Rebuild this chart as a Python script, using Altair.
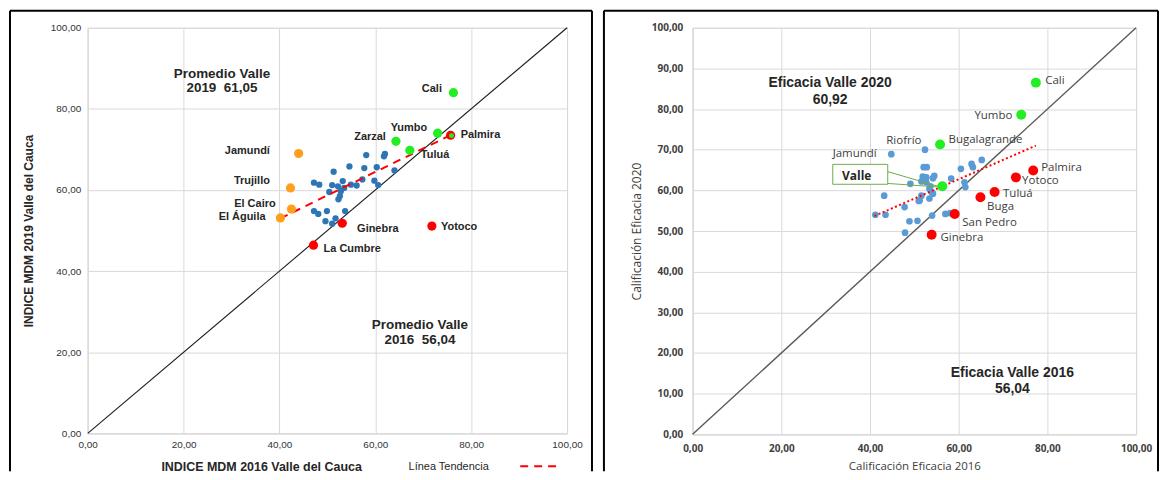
import altair as alt
import pandas as pd

# ---------------- LEFT PANEL: INDICE MDM 2016 vs 2019 ----------------
L_blue_x = [58.1, 62.0, 61.8, 54.6, 57.7, 60.3, 51.3, 64.0, 47.2, 48.3, 51.0, 53.2, 52.2, 54.9, 56.1,
            57.3, 59.8, 60.6, 50.4, 52.8, 53.5, 52.6, 52.3, 47.2, 48.1, 49.9, 53.7, 49.6, 51.0, 51.7]
L_blue_y = [68.6, 68.9, 68.3, 65.8, 65.4, 65.6, 64.5, 64.8, 61.8, 61.3, 61.2, 62.2, 60.9, 61.3, 61.1,
            62.6, 62.3, 61.2, 59.5, 59.7, 60.5, 58.5, 57.7, 54.8, 54.1, 54.8, 54.8, 52.3, 51.7, 53.0]

L_names = ["Cali", "Yumbo", "Zarzal", "Tuluá", "Palmira", "Jamundí", "Trujillo", "El Cairo",
           "El Águila", "Ginebra", "La Cumbre", "Yotoco"]
L_x = [76.3, 73.0, 64.3, 67.2, 75.7, 44.0, 42.3, 42.5, 40.2, 53.1, 47.1, 71.8]
L_y = [84.0, 74.0, 72.0, 69.8, 73.5, 69.0, 60.5, 55.3, 53.1, 51.8, 46.4, 51.1]
L_group = ["verde", "verde", "verde", "verde", "rojo", "naranja", "naranja", "naranja",
           "naranja", "rojo", "rojo", "rojo"]
L_lab_x = [73.9, 67.0, 58.9, 69.5, 77.8, 38.0, 38.0, 39.2, 37.1, 56.2, 49.2, 73.7]
L_lab_y = [85.0, 75.4, 73.0, 68.6, 73.5, 69.5, 62.2, 56.5, 53.3, 50.4, 45.5, 50.9]
L_lab_align = ["right", "center", "center", "left", "left", "right", "right", "right",
               "right", "left", "left", "left"]
L_overlap_x = [75.9]   # green marker seen on top of Palmira
L_overlap_y = [73.4]

L_trend_x = [40.2, 76.0]
L_trend_y = [53.0, 73.7]

L_note_text = ["Promedio Valle\n2019\u00a0\u00a061,05", "Promedio Valle\n2016\u00a0\u00a056,04"]
L_note_x = [28.0, 69.3]
L_note_y = [88.7, 26.6]

# ---------------- RIGHT PANEL: Eficacia 2016 vs 2020 ----------------
R_blue_x = [44.8, 52.4, 52.1, 52.8, 54.5, 54.2, 60.5, 62.9, 63.2, 65.2, 51.9, 52.7, 51.6, 52.7, 58.3,
            49.1, 61.3, 61.5, 43.2, 51.6, 51.2, 54.2, 53.4, 47.8, 41.2, 43.5, 48.9, 50.7, 54.0, 57.0,
            58.1, 47.9, 53.6, 53.9, 53.4, 51.0]
R_blue_y = [68.9, 70.0, 65.7, 65.7, 63.6, 63.0, 65.3, 66.5, 65.7, 67.5, 63.4, 63.2, 62.2, 62.0, 62.9,
            61.6, 62.0, 60.8, 58.7, 58.7, 57.5, 59.2, 60.4, 55.9, 54.0, 54.0, 52.4, 52.5, 53.8, 54.2,
            54.4, 49.6, 61.0, 59.6, 58.0, 57.4]

R_names = ["Cali", "Yumbo", "Bugalagrande", "Valle", "Palmira", "Yotoco", "Tuluá", "Buga",
           "San Pedro", "Ginebra"]
R_x = [77.4, 74.1, 55.8, 56.3, 76.8, 72.9, 68.1, 64.9, 59.1, 53.9]
R_y = [86.5, 78.6, 71.3, 61.0, 64.9, 63.2, 59.6, 58.3, 54.2, 49.1]
R_group = ["verde", "verde", "verde", "verde", "rojo", "rojo", "rojo", "rojo", "rojo", "rojo"]

R_lab_text = ["Cali", "Yumbo", "Bugalagrande", "Riofrío", "Jamundí", "Palmira", "Yotoco", "Tuluá",
              "Buga", "San Pedro", "Ginebra"]
R_lab_x = [79.5, 72.1, 57.7, 51.6, 41.5, 78.6, 74.3, 70.0, 66.4, 60.8, 55.9]
R_lab_y = [86.8, 78.4, 72.3, 72.1, 68.9, 65.5, 62.2, 59.0, 55.8, 52.0, 48.4]
R_lab_align = ["left", "right", "left", "right", "right", "left", "left", "left", "left", "left", "left"]

R_trend_x = [41.0, 77.4]
R_trend_y = [53.7, 71.0]

R_note_text = ["Eficacia Valle 2020\n60,92", "Eficacia Valle 2016\n56,04"]
R_note_x = [31.0, 72.1]
R_note_y = [86.5, 15.2]

R_callout_x = [31.6]
R_callout_x2 = [44.0]
R_callout_y = [61.5]
R_callout_y2 = [66.4]
R_callout_text_x = [33.7]
R_callout_text_y = [63.5]
R_conn_x = [44.0, 44.0]
R_conn_y = [64.6, 61.7]
R_conn_x2 = [56.0, 56.0]
R_conn_y2 = [60.8, 60.8]

DIAG_X = [0, 100]
DIAG_Y = [0, 100]

# ---------------- styling ----------------
GROUP_DOMAIN = ["verde", "rojo", "naranja"]
GROUP_RANGE = ["#22ee22", "#ff0000", "#ff9f1c"]
lab_expr = "replace(format(datum.value, '.2f'), '.', ',')"
AXC = dict(ticks=False, domainColor="#d9d9d9", gridColor="#d9d9d9", labelFlush=False,
           labelOverlap=False)

W1, H1 = 481, 407
W2, H2 = 445, 408

xs1 = alt.Scale(domain=[0, 100], nice=False, zero=False)
ys1 = alt.Scale(domain=[0, 100], nice=False, zero=False)
ax_x1 = alt.Axis(values=[0, 20, 40, 60, 80, 100], labelExpr=lab_expr, labelFont="Liberation Sans",
                 labelFontSize=10, labelColor="#333333", labelPadding=6,
                 title="INDICE MDM 2016 Valle del Cauca", titleFont="Liberation Sans",
                 titleFontSize=12.5, titleFontWeight="bold", titleColor="#262626",
                 titleX=174, titleY=33, titleBaseline="middle", titleAlign="center", **AXC)
ax_y1 = alt.Axis(values=[0, 20, 40, 60, 80, 100], labelExpr=lab_expr, labelFont="Liberation Sans",
                 labelFontSize=10, labelColor="#333333", labelPadding=7,
                 title="INDICE MDM 2019 Valle del Cauca", titleFont="Liberation Sans",
                 titleFontSize=12, titleFontWeight="bold", titleColor="#262626",
                 titleX=-59, titleY=H1 / 2, titleBaseline="middle", titleAlign="center",
                 titleAngle=270, **AXC)

xs2 = alt.Scale(domain=[0, 100], nice=False, zero=False)
ys2 = alt.Scale(domain=[0, 100], nice=False, zero=False)
ax_x2 = alt.Axis(values=[0, 20, 40, 60, 80, 100], labelExpr=lab_expr, labelFont="Open Sans",
                 labelFontSize=10, labelFontWeight="bold", labelColor="#404040", labelPadding=9,
                 title="Calificación Eficacia 2016", titleFont="Open Sans", titleFontSize=11.5,
                 titleFontWeight="normal", titleColor="#404040",
                 titleX=W2 / 2, titleY=32, titleBaseline="middle", titleAlign="center", **AXC)
ax_y2 = alt.Axis(values=list(range(0, 101, 10)), labelExpr=lab_expr, labelFont="Open Sans",
                 labelFontSize=10, labelFontWeight="bold", labelColor="#404040", labelPadding=10,
                 title="Calificación Eficacia 2020", titleFont="Open Sans", titleFontSize=12,
                 titleFontWeight="normal", titleColor="#404040",
                 titleX=-56, titleY=H2 / 2, titleBaseline="middle", titleAlign="center",
                 titleAngle=270, **AXC)


def X1(f):
    return alt.X(f, type="quantitative", scale=xs1, axis=ax_x1)


def Y1(f):
    return alt.Y(f, type="quantitative", scale=ys1, axis=ax_y1)


def X2(f):
    return alt.X(f, type="quantitative", scale=xs2, axis=ax_x2)


def Y2(f):
    return alt.Y(f, type="quantitative", scale=ys2, axis=ax_y2)


one = pd.DataFrame({"k": [0]})
color_enc = alt.Color("g:N", scale=alt.Scale(domain=GROUP_DOMAIN, range=GROUP_RANGE), legend=None)


def frame(x0, x1, y0, y1):
    """Panel border (open at the bottom, where the page cuts it)."""
    st = dict(color="black", strokeWidth=2)
    return [
        alt.Chart(one).mark_rule(**st).encode(x=alt.value(x0), x2=alt.value(x1), y=alt.value(y0)),
        alt.Chart(one).mark_rule(**st).encode(x=alt.value(x0), y=alt.value(y0), y2=alt.value(y1)),
        alt.Chart(one).mark_rule(**st).encode(x=alt.value(x1), y=alt.value(y0), y2=alt.value(y1)),
    ]


# ---------- left layers ----------
diag = pd.DataFrame({"x": DIAG_X, "y": DIAG_Y})
l_frame = frame(-78, 506, -17, 445)
l_diag = alt.Chart(diag).mark_line(color="#1a1a1a", strokeWidth=1.1).encode(x=X1("x"), y=Y1("y"))
l_blue = alt.Chart(pd.DataFrame({"x": L_blue_x, "y": L_blue_y})).mark_circle(
    size=40, opacity=1, color="#2e75b6").encode(x=X1("x"), y=Y1("y"))
l_trend = alt.Chart(pd.DataFrame({"x": L_trend_x, "y": L_trend_y})).mark_line(
    color="#ff0000", strokeWidth=2, strokeDash=[8, 6]).encode(x=X1("x"), y=Y1("y"))
l_named = alt.Chart(pd.DataFrame({"x": L_x, "y": L_y, "g": L_group, "n": L_names})).mark_circle(
    size=85, opacity=1).encode(x=X1("x"), y=Y1("y"), color=color_enc)
l_over = alt.Chart(pd.DataFrame({"x": L_overlap_x, "y": L_overlap_y})).mark_circle(
    size=25, opacity=1, color="#22ee22").encode(x=X1("x"), y=Y1("y"))
l_lab_df = pd.DataFrame({"x": L_lab_x, "y": L_lab_y, "t": L_names, "a": L_lab_align})
l_labs = [
    alt.Chart(l_lab_df).transform_filter(alt.datum.a == a).mark_text(
        align=a, baseline="middle", font="Liberation Sans", fontSize=11, fontWeight="bold",
        color="#262626").encode(x=X1("x"), y=Y1("y"), text="t:N")
    for a in ["left", "right", "center"]
]
l_notes = alt.Chart(pd.DataFrame({"x": L_note_x, "y": L_note_y, "t": L_note_text})).mark_text(
    align="center", baseline="middle", font="Liberation Sans", fontSize=13.5, fontWeight="bold",
    color="#262626", lineBreak="\n", lineHeight=15).encode(x=X1("x"), y=Y1("y"), text="t:N")
l_leg_text = alt.Chart(one).mark_text(
    align="left", baseline="middle", font="Liberation Sans", fontSize=11, color="#262626",
    text="Línea Tendencia").encode(x=alt.value(322), y=alt.value(441))
l_leg_line = alt.Chart(one).mark_rule(color="#ff0000", strokeWidth=2, strokeDash=[8, 6]).encode(
    x=alt.value(434), x2=alt.value(473), y=alt.value(440))

left = alt.layer(*l_frame, l_diag, l_blue, l_trend, l_named, l_over, *l_labs, l_notes,
                 l_leg_text, l_leg_line).properties(width=W1, height=H1)

# ---------- right layers ----------
r_frame = frame(-89, 467, -17, 445)
r_diag = alt.Chart(diag).mark_line(color="#595959", strokeWidth=1.4).encode(x=X2("x"), y=Y2("y"))
r_blue = alt.Chart(pd.DataFrame({"x": R_blue_x, "y": R_blue_y})).mark_circle(
    size=45, opacity=1, color="#5b9bd5").encode(x=X2("x"), y=Y2("y"))
r_trend = alt.Chart(pd.DataFrame({"x": R_trend_x, "y": R_trend_y})).mark_line(
    color="#ff0000", strokeWidth=2, strokeDash=[2, 2.5]).encode(x=X2("x"), y=Y2("y"))
r_named = alt.Chart(pd.DataFrame({"x": R_x, "y": R_y, "g": R_group, "n": R_names})).mark_circle(
    size=100, opacity=1).encode(x=X2("x"), y=Y2("y"), color=color_enc)
r_lab_df = pd.DataFrame({"x": R_lab_x, "y": R_lab_y, "t": R_lab_text, "a": R_lab_align})
r_labs = [
    alt.Chart(r_lab_df).transform_filter(alt.datum.a == a).mark_text(
        align=a, baseline="middle", font="Open Sans", fontSize=11.5, color="#404040").encode(
        x=X2("x"), y=Y2("y"), text="t:N")
    for a in ["left", "right"]
]
r_notes = alt.Chart(pd.DataFrame({"x": R_note_x, "y": R_note_y, "t": R_note_text})).mark_text(
    align="center", baseline="middle", font="Liberation Sans", fontSize=14, fontWeight="bold",
    color="#262626", lineBreak="\n", lineHeight=17).encode(x=X2("x"), y=Y2("y"), text="t:N")
r_conn = alt.Chart(pd.DataFrame({"x": R_conn_x, "y": R_conn_y, "x2": R_conn_x2, "y2": R_conn_y2})
                   ).mark_rule(color="#70ad47", strokeWidth=1).encode(
    x=X2("x"), y=Y2("y"), x2="x2:Q", y2="y2:Q")
r_box = alt.Chart(pd.DataFrame({"x": R_callout_x, "x2": R_callout_x2, "y": R_callout_y,
                                "y2": R_callout_y2})).mark_rect(
    fill="white", stroke="#70ad47", strokeWidth=1).encode(x=X2("x"), x2="x2:Q", y=Y2("y"), y2="y2:Q")
r_box_text = alt.Chart(pd.DataFrame({"x": R_callout_text_x, "y": R_callout_text_y, "t": ["Valle"]})
                       ).mark_text(align="left", baseline="middle", font="Open Sans", fontSize=12,
                                   fontWeight="bold", color="#262626").encode(
    x=X2("x"), y=Y2("y"), text="t:N")

right = alt.layer(*r_frame, r_diag, r_blue, r_trend, r_conn, r_named, *r_labs, r_notes, r_box,
                  r_box_text).properties(width=W2, height=H2)

chart = alt.hconcat(left, right, spacing=8).properties(padding=0, background="white").configure_view(
    stroke="#d9d9d9")

chart.save("out.html", embed_options={"renderer": "svg", "actions": False})
